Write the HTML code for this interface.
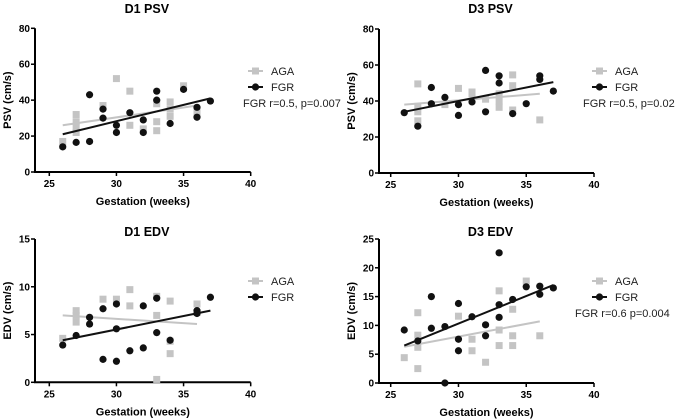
<!DOCTYPE html>
<html><head><meta charset="utf-8"><style>
body{margin:0;background:#fff;}
svg{display:block;font-family:"Liberation Sans",sans-serif;}
</style></head><body>
<svg id="chart" width="685" height="420"></svg>
<script>
const xTicks=[25,30,35,40];
const p1Title="D1 PSV", p2Title="D3 PSV", p3Title="D1 EDV", p4Title="D3 EDV";
const p1FgrX=[26,27,28,28,29,29,30,30,31,32,32,33,33,34,35,36,36,37];
const p1FgrY=[14,16.5,43,17,35,30,26,22,33,29,22,45,40,27,46,36,30.5,39.5];
const p1AgaX=[26,27,27,27,27,29,30,31,31,32,33,33,33,34,34,34,35,36];
const p1AgaY=[17,32,28,25,22,37,52,45,26,24,38,28,23,39,35,31,48,33];
const p1AgaLine=[[26,26],[36,37]], p1FgrLine=[[26,21],[37,41]];
const p2FgrX=[26,27,28,28,29,30,30,31,32,32,33,33,34,35,36,36,37];
const p2FgrY=[33.5,26,47.5,38.5,42,38,32,39.5,57,34,54,50,33,38.5,54,52,45.5];
const p2AgaX=[27,27,27,27,29,30,31,31,32,33,33,33,34,34,34,36];
const p2AgaY=[49.5,37,34,29,38,47,45,44,41,44,40,36.5,54.5,48.5,35,29.5];
const p2AgaLine=[[26,38],[36,44]], p2FgrLine=[[26,34],[37,50.5]];
const p3FgrX=[26,27,28,28,29,29,30,30,30,31,32,32,33,33,34,36,36,37];
const p3FgrY=[3.9,4.9,6.8,6.1,7.7,2.4,8.2,5.6,2.2,3.3,8,3.6,8.8,5.2,4.4,7.5,7.2,8.9];
const p3AgaX=[26,27,27,27,29,30,31,31,33,33,33,34,34,34,36,36];
const p3AgaY=[4.6,7.5,7,6.3,8.7,8.7,9.7,8,9,7,0.3,8.5,4.3,3,8.2,7.3];
const p3AgaLine=[[26,7],[36,6.1]], p3FgrLine=[[26,4.4],[37,7.5]];
const p4FgrX=[26,27,28,28,29,29,30,30,30,31,32,32,33,33,33,34,35,36,36,37];
const p4FgrY=[9.2,7.3,15,9.5,9.8,0,13.8,7.6,5.6,11.5,10.1,8.2,22.6,13.6,11.4,14.5,16.7,16.8,15.4,16.5];
const p4AgaX=[26,27,27,27,27,30,31,31,32,33,33,33,34,34,34,35,36];
const p4AgaY=[4.4,12.2,8.3,6.2,2.5,11.6,7.6,5.6,3.6,16,9.2,6.5,12.8,8.2,6.5,17.7,8.2];
const p4AgaLine=[[26,6.3],[36,10.7]], p4FgrLine=[[26,6.5],[37,17]];
const psvTicks=[0,20,40,60,80], edv1Ticks=[0,5,10,15], edv2Ticks=[0,5,10,15,20,25];

const NS="http://www.w3.org/2000/svg";
const svg=document.getElementById('chart');
function mk(tag,attrs,parent,txt){const e=document.createElementNS(NS,tag);for(const k in attrs)e.setAttribute(k,attrs[k]);if(txt!==undefined)e.textContent=txt;(parent||svg).appendChild(e);return e;}

function panel(o){
  const g=mk('g',{});
  
  
  const x0=o.ax, x40=o.x40, x25=o.x25;
  const sx=v=>x25+(v-25)*(x40-x25)/15;
  const yMax=o.yTicks[o.yTicks.length-1];
  const sy=v=>o.y0-(v/yMax)*(o.y0-o.yTop);
  const xStart=sx(24);
  // axes
  const ya=mk('line',{x1:o.ax,y1:o.yTop,x2:o.ax,y2:o.y0,stroke:'#000','stroke-width':2},g);
  
  const xa=mk('line',{x1:o.ax-1,y1:o.y0,x2:x40,y2:o.y0,stroke:'#000','stroke-width':2},g);
  
  o.yTicks.forEach(t=>{const y=sy(t);mk('line',{x1:o.ax-4,y1:y,x2:o.ax,y2:y,stroke:'#000','stroke-width':1.5},g);
    const l=mk('text',{x:o.ax-5,y:y+3.5,'text-anchor':'end','font-size':10,'font-weight':'bold'},g,t);
    });
  xTicks.forEach(t=>{const x=sx(t);mk('line',{x1:x,y1:o.y0,x2:x,y2:o.y0+4,stroke:'#000','stroke-width':1.5},g);
    const l=mk('text',{x:x,y:o.y0+15,'text-anchor':'middle','font-size':10,'font-weight':'bold'},g,t);
    });
  const tt=mk('text',{x:(o.ax+x40)/2+4,y:o.titleY,'text-anchor':'middle','font-size':12.5,'font-weight':'bold'},g,o.title);
  
  const xt=mk('text',{x:(o.ax+x40)/2,y:o.y0+33,'text-anchor':'middle','font-size':11,'font-weight':'bold'},g,'Gestation (weeks)');
  
  const cy=(o.yTop+o.y0)/2;
  const yt=mk('text',{x:o.ax-24,y:cy,'text-anchor':'middle','font-size':11,'font-weight':'bold',transform:`rotate(-90 ${o.ax-24} ${cy})`},g,o.yLabel);
  
  // AGA squares
  o.agaX.forEach((v,i)=>{const r=mk('rect',{x:sx(v)-3.5,y:sy(o.agaY[i])-3.5,width:7,height:7,fill:'#c4c4c4'},g);
    });
  const al=mk('line',{x1:sx(o.agaLine[0][0]),y1:sy(o.agaLine[0][1]),x2:sx(o.agaLine[1][0]),y2:sy(o.agaLine[1][1]),stroke:'#c4c4c4','stroke-width':2},g);
  
  o.fgrX.forEach((v,i)=>{const c=mk('circle',{cx:sx(v),cy:sy(o.fgrY[i]),r:3.6,fill:'#111'},g);
    });
  const fl=mk('line',{x1:sx(o.fgrLine[0][0]),y1:sy(o.fgrLine[0][1]),x2:sx(o.fgrLine[1][0]),y2:sy(o.fgrLine[1][1]),stroke:'#111','stroke-width':2},g);
  
  // legend
  const lx=o.legX, ly=o.legY;
  const le1=mk('g',{},g);
  mk('line',{x1:lx,y1:ly,x2:lx+15,y2:ly,stroke:'#c4c4c4','stroke-width':2},le1);
  mk('rect',{x:lx+4,y:ly-3.5,width:7,height:7,fill:'#c4c4c4'},le1);
  mk('text',{x:lx+23,y:ly+4,'font-size':11,fill:'#222'},le1,'AGA');
  const le2=mk('g',{},g);
  mk('line',{x1:lx,y1:ly+16,x2:lx+15,y2:ly+16,stroke:'#111','stroke-width':2},le2);
  mk('circle',{cx:lx+7.5,cy:ly+16,r:3.6,fill:'#111'},le2);
  mk('text',{x:lx+23,y:ly+20,'font-size':11,fill:'#222'},le2,'FGR');
  if(o.stat){const s=mk('text',{x:o.statX,y:ly+36,'font-size':11,fill:'#222'},g,o.stat);
    }
}
panel({id:'d1-psv',title:p1Title,ax:35,x25:49.3,x40:250.7,y0:172,yTop:28.3,yTicks:psvTicks,yLabel:'PSV (cm/s)',titleY:13,
  fgrX:p1FgrX,fgrY:p1FgrY,agaX:p1AgaX,agaY:p1AgaY,agaLine:p1AgaLine,fgrLine:p1FgrLine,legX:248,legY:71,stat:'FGR r=0.5, p=0.007',statX:243});
panel({id:'d3-psv',title:p2Title,ax:379,x25:390.7,x40:594,y0:173,yTop:29,yTicks:psvTicks,yLabel:'PSV (cm/s)',titleY:13,
  fgrX:p2FgrX,fgrY:p2FgrY,agaX:p2AgaX,agaY:p2AgaY,agaLine:p2AgaLine,fgrLine:p2FgrLine,legX:592,legY:71,stat:'FGR r=0.5, p=0.02',statX:583});
panel({id:'d1-edv',title:p3Title,ax:35,x25:49.3,x40:250.7,y0:382.3,yTop:239,yTicks:edv1Ticks,yLabel:'EDV (cm/s)',titleY:236,
  fgrX:p3FgrX,fgrY:p3FgrY,agaX:p3AgaX,agaY:p3AgaY,agaLine:p3AgaLine,fgrLine:p3FgrLine,legX:248,legY:281});
panel({id:'d3-edv',title:p4Title,ax:379,x25:390.7,x40:594,y0:383,yTop:239,yTicks:edv2Ticks,yLabel:'EDV (cm/s)',titleY:236,
  fgrX:p4FgrX,fgrY:p4FgrY,agaX:p4AgaX,agaY:p4AgaY,agaLine:p4AgaLine,fgrLine:p4FgrLine,legX:592,legY:281,stat:'FGR r=0.6 p=0.004',statX:575});
</script>
</body></html>
